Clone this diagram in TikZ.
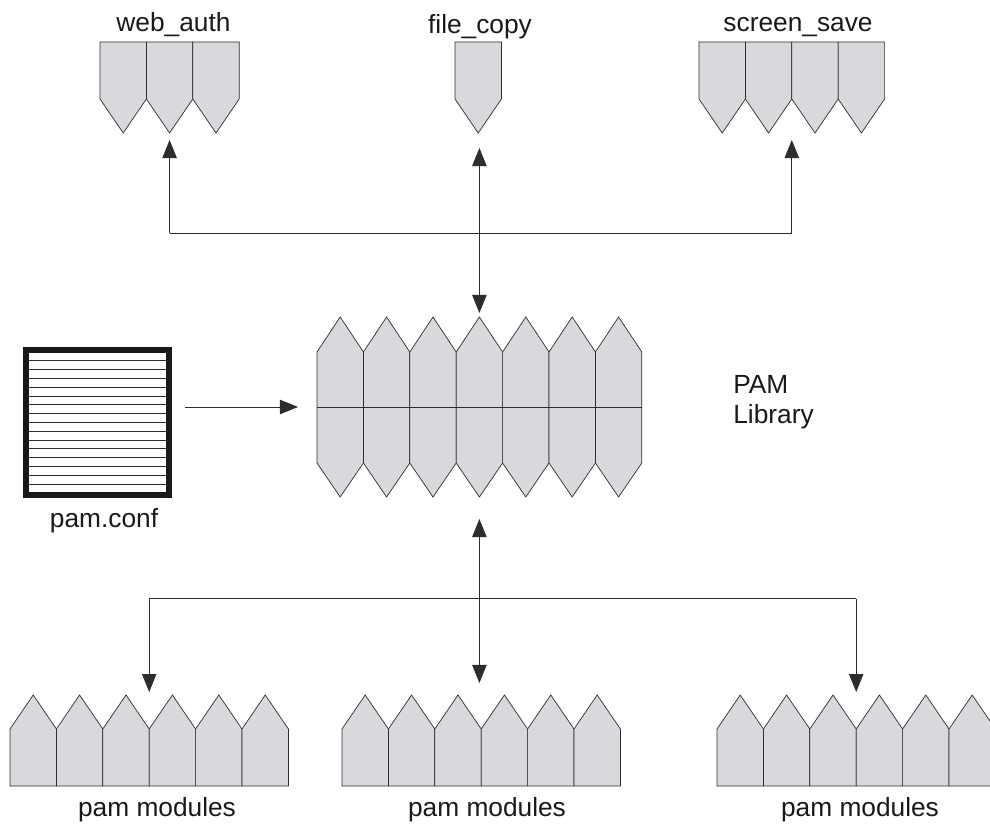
\documentclass[tikz,border=0pt]{standalone}
\usepackage{fontspec}
\setmainfont{Liberation Sans}
\usepackage{xcolor}
\usepackage{tikz}
\usetikzlibrary{arrows.meta,fit,positioning}
\definecolor{colgray}{RGB}{216,217,220}
\definecolor{inkgray}{RGB}{45,45,45}

\begin{document}
\begin{tikzpicture}[x=0.025cm,y=-0.025cm,
    font=\fontsize{18.7}{21}\selectfont,
    col/.style={draw=inkgray,fill=colgray,line width=0.5pt,line join=miter},
    blk/.style={inner sep=0pt,outer sep=0pt},
    lbl/.style={inner sep=0pt,text=black!90},
    link/.style={draw=inkgray,line width=0.6pt},
    arr/.style={link,-{Triangle[length=4.5mm,width=3.6mm]}},
    dbl/.style={link,{Triangle[length=4.5mm,width=3.6mm]}-{Triangle[length=4.5mm,width=3.6mm]}}]
  \useasboundingbox (0,0) rectangle (990,826);

  % applications
  \foreach \i in {0,1,2}
    \draw[col] ({100+46.4*\i},42) -- ++(46.4,0) -- ++(0,57) -- ++(-23.2,34) -- ++(-23.2,-34) -- cycle;
  \draw[col] (455,42) -- ++(46.4,0) -- ++(0,57) -- ++(-23.2,34) -- ++(-23.2,-34) -- cycle;
  \foreach \i in {0,...,3}
    \draw[col] ({699+46.4*\i},42) -- ++(46.4,0) -- ++(0,57) -- ++(-23.2,34) -- ++(-23.2,-34) -- cycle;
  \node[blk,fit={(100,42) (239.2,133)}] (web) {};
  \node[blk,fit={(455,42) (501.4,133)}] (fc) {};
  \node[blk,fit={(699,42) (884.6,133)}] (scr) {};
  \node[lbl,anchor=base] (weblbl) at (173.5,32) {web\_auth};
  \node[lbl,anchor=base] (fclbl) at (480,34) {file\_copy};
  \node[lbl,anchor=base] (scrlbl) at (798,32) {screen\_save};

  % PAM library
  \foreach \i in {0,...,6}
    \draw[col] ({317+46.4*\i},352) -- ++(23.2,-35) -- ++(23.2,35) -- ++(0,111) -- ++(-23.2,34) -- ++(-23.2,-34) -- cycle;
  \node[blk,fit={(317,317) (641.8,497)}] (lib) {};
  \draw[inkgray,line width=0.6pt] (lib.west) -- (lib.east);
  \node[lbl,align=left,anchor=west] (liblbl) at (733,402) {PAM\\Library};

  % pam.conf
  \node[blk,draw=black!90,line width=0.15cm,outer sep=0.075cm,fit={(26,350) (169,495)}] (conf) {};
  \foreach \k in {1,...,15}
    \draw[inkgray,line width=0.5pt] (29,{352+8.8*\k}) -- (166,{352+8.8*\k});
  \node[lbl,anchor=base] (conflbl) at (104,527) {pam.conf};

  % modules
  \foreach \x/\n in {10/lmod,342/mmod,717/rmod}{
    \foreach \i in {0,...,5}
      \draw[col] ({\x+46.4*\i},786) -- ++(0,-57) -- ++(23.2,-34) -- ++(23.2,34) -- ++(0,57) -- cycle;
    \node[blk,fit={(\x,695) ({\x+278.4},786)}] (\n) {};
  }
  \node[lbl,anchor=base] (lmodlbl) at (157,816) {pam modules};
  \node[lbl,anchor=base] (mmodlbl) at (487,816) {pam modules};
  \node[lbl,anchor=base] (rmodlbl) at (860,816) {pam modules};

  % connectors
  \coordinate (tbar) at (0,233);
  \coordinate (bbar) at (0,598.7);
  \draw[link] (web.south |- tbar) -- (scr.south |- tbar);
  \draw[arr,shorten >=1.75mm] (web.south |- tbar) -- (web.south);
  \draw[arr,shorten >=1.75mm] (scr.south |- tbar) -- (scr.south);
  \draw[dbl,shorten <=1mm,shorten >=3.75mm] (lib.north) -- (lib.north |- fc.south);
  \draw[arr,shorten <=3.25mm,shorten >=4.75mm] (conf.east |- lib.west) -- (lib.west);
  \draw[link] (lmod.north |- bbar) -- (rmod.north |- bbar);
  \draw[dbl,shorten <=5.5mm,shorten >=3mm] (lib.south) -- (lib.south |- mmod.north);
  \draw[arr,shorten >=0.75mm] (lmod.north |- bbar) -- (lmod.north);
  \draw[arr,shorten >=0.75mm] (rmod.north |- bbar) -- (rmod.north);
\end{tikzpicture}
\end{document}
